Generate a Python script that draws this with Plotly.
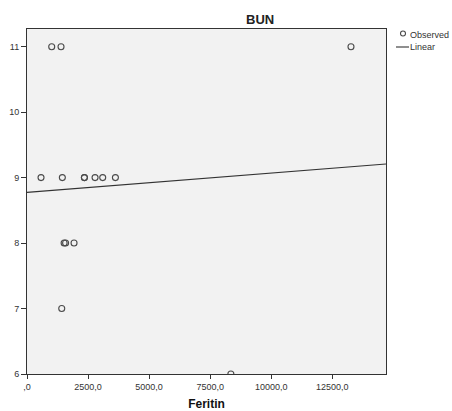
import numpy as np
import plotly.graph_objects as go

feritin = [1012, 1393, 13266, 574, 1447, 2350, 2350, 2787, 3100, 3620, 1520, 1580, 1926, 1422, 8348]
bun = [11, 11, 11, 9, 9, 9, 9, 9, 9, 9, 8, 8, 8, 7, 6]
x_ticks = [0, 2500, 5000, 7500, 10000, 12500]
x_tick_labels = [",0", "2500,0", "5000,0", "7500,0", "10000,0", "12500,0"]
y_ticks = [6, 7, 8, 9, 10, 11]
legend_labels = ["Observed", "Linear"]

W, H = 452, 411
ML, MR, MT, MB = 27, 66, 29, 37
PW, PH = W - ML - MR, H - MT - MB


def px(xp):
    return (xp - ML) / PW


def py(yp):
    return (H - MB - yp) / PH


X_MAX = 14700
slope, intercept = np.polyfit(feritin, bun, 1)
fit_x = [0, X_MAX]
fit_y = [intercept + slope * v for v in fit_x]

fig = go.Figure()
fig.add_trace(go.Scatter(
    x=feritin, y=bun, mode="markers", name=legend_labels[0], cliponaxis=True,
    marker=dict(symbol="circle-open", size=6, color="#4a4a4a", line=dict(width=1.1, color="#4a4a4a")),
))
fig.add_trace(go.Scatter(
    x=fit_x, y=fit_y, mode="lines", name=legend_labels[1],
    line=dict(color="#333333", width=1.1),
))

fig.update_layout(
    width=W, height=H,
    margin=dict(l=ML, r=MR, t=MT, b=MB, autoexpand=False),
    paper_bgcolor="white",
    plot_bgcolor="#f2f2f2",
    font=dict(family="Liberation Sans, Arial, sans-serif", size=10, color="#333333"),
    showlegend=False,
    annotations=[
        dict(text="<b>BUN</b>", x=px(260), y=py(19), xref="paper", yref="paper", showarrow=False,
             xanchor="center", yanchor="middle", font=dict(size=13, color="#222222")),
        dict(text=legend_labels[0], x=px(408), y=py(35), xref="paper", yref="paper", showarrow=False,
             xanchor="left", yanchor="middle", font=dict(size=9, color="#333333")),
        dict(text=legend_labels[1], x=px(408), y=py(47), xref="paper", yref="paper", showarrow=False,
             xanchor="left", yanchor="middle", font=dict(size=9, color="#333333")),
    ],
    shapes=[
        dict(type="circle", xref="paper", yref="paper", x0=px(400.5), x1=px(405.5), y0=py(31), y1=py(36),
             line=dict(color="#4a4a4a", width=1.1)),
        dict(type="line", xref="paper", yref="paper", x0=px(396), x1=px(409), y0=py(47), y1=py(47),
             line=dict(color="#333333", width=1.1)),
    ],
)

fig.update_xaxes(
    range=[0, X_MAX], tickmode="array", tickvals=x_ticks, ticktext=x_tick_labels,
    ticks="outside", ticklen=4, tickcolor="#333333", showgrid=False, zeroline=False,
    showline=True, linecolor="#333333", linewidth=1, mirror=True,
    tickfont=dict(size=9, color="#333333"),
    title=dict(text="<b>Feritin</b>", font=dict(size=12, color="#111111"), standoff=10),
)
fig.update_yaxes(
    range=[6, 11.27], tickmode="array", tickvals=y_ticks,
    ticks="outside", ticklen=5, tickcolor="#333333", showgrid=False, zeroline=False,
    showline=True, linecolor="#333333", linewidth=1, mirror=True,
    tickfont=dict(size=9, color="#333333"),
)

fig.write_html("out.html", config={"displayModeBar": False},
               post_script="document.body.style.margin='0';document.body.style.overflow='hidden';")
